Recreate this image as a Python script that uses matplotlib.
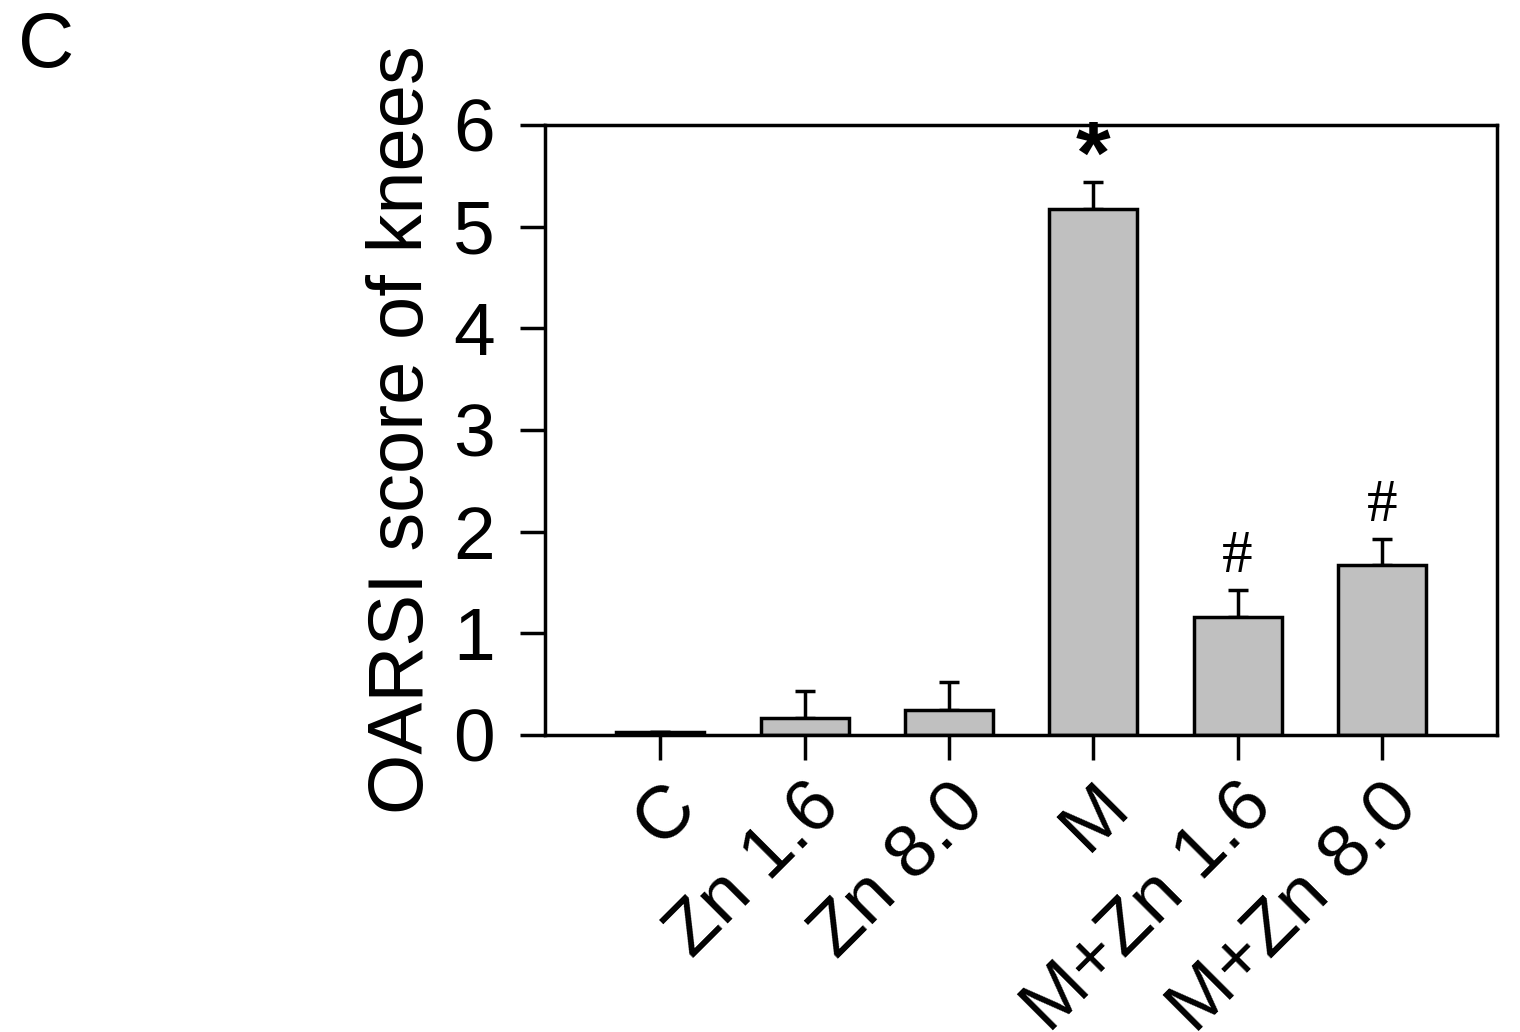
import matplotlib.pyplot as plt
import numpy as np

groups = ['C', 'Zn 1.6', 'Zn 8.0', 'M', 'M+Zn 1.6', 'M+Zn 8.0']
means = [0.03, 0.17, 0.25, 5.17, 1.16, 1.67]
errs = [0.0, 0.26, 0.27, 0.27, 0.27, 0.26]
marks = ['', '', '', '*', '#', '#']

plt.rcParams['font.family'] = ['Liberation Sans', 'DejaVu Sans']

fig = plt.figure(figsize=(15.2, 10.32), dpi=100)
ax = fig.add_axes([0.3586, 0.2878, 0.6264, 0.5911])
x = np.arange(len(groups))
ax.bar(x, means, width=0.61, color='#c0c0c0', edgecolor='black', linewidth=2.5, zorder=2)
ax.errorbar(x, means, yerr=[np.zeros(len(errs)), errs], fmt='none', ecolor='black',
            elinewidth=2.5, capsize=7, capthick=2.5, zorder=1)
for xi, m, e, s in zip(x, means, errs, marks):
    if s == '*':
        ax.text(xi, m + e - 0.2, s, ha='center', va='bottom', fontsize=64, fontweight='bold')
    elif s:
        ax.text(xi, m + e + 0.05, s, ha='center', va='bottom', fontsize=44, family='Liberation Serif')

ax.set_xlim(-0.8, 5.8)
ax.set_ylim(0, 6)
ax.set_yticks(range(7))
ax.set_xticks(x)
ax.set_xticklabels(groups, rotation=45, ha='right', rotation_mode='anchor')
ax.tick_params(axis='both', labelsize=54, width=2.5, length=18, direction='out')
ax.tick_params(axis='x', pad=8)
ax.tick_params(axis='y', pad=18)
for sp in ax.spines.values():
    sp.set_linewidth(2.5)
ax.set_ylabel('OARSI score of knees', fontsize=56, labelpad=10)
fig.text(0.012, 0.955, 'C', fontsize=56, va='center')

fig.savefig('out.png', dpi=100)
